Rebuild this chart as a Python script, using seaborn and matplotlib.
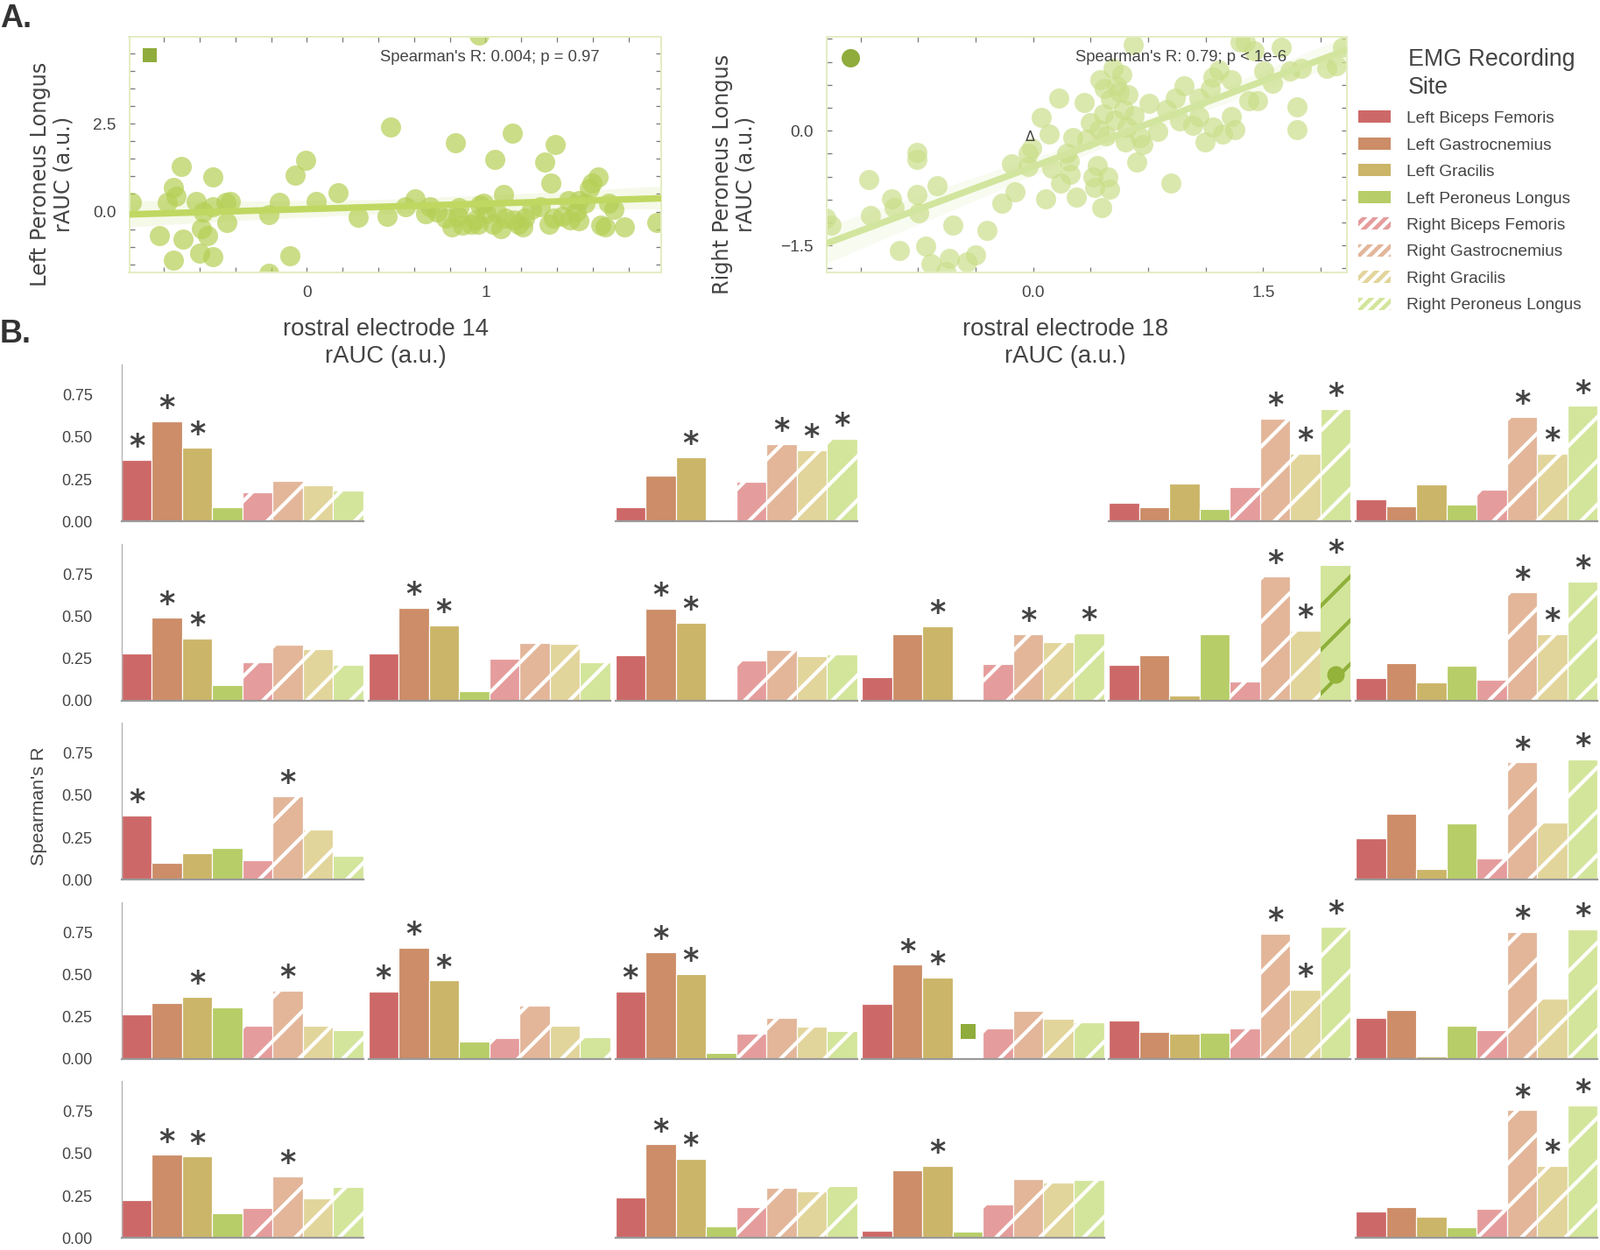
import numpy as np
import pandas as pd
import matplotlib
matplotlib.use("Agg")
import matplotlib.pyplot as plt
import seaborn as sns
from matplotlib import font_manager
from matplotlib.patches import Patch
from matplotlib.ticker import MultipleLocator, FuncFormatter

DPI = 300
W, H = 1827, 1427


def pt(px):
    return px * 72.0 / DPI


def has_font(name):
    try:
        font_manager.findfont(name, fallback_to_default=False)
        return True
    except Exception:
        return False


sns.set_theme(style="white")
NARROW = "Liberation Sans Narrow" if has_font("Liberation Sans Narrow") else "Liberation Sans"
plt.rcParams["font.family"] = [NARROW, "DejaVu Sans"]
plt.rcParams["hatch.linewidth"] = pt(4.2)
TXT = "#444444"

# ---------------------------------------------------------------- data
muscles = ["Left Biceps Femoris", "Left Gastrocnemius", "Left Gracilis",
           "Left Peroneus Longus", "Right Biceps Femoris", "Right Gastrocnemius",
           "Right Gracilis", "Right Peroneus Longus"]
colors = ["#cd6868", "#cc8d68", "#cbb568", "#b7cd68",
          "#e59c9c", "#e3b69a", "#e2d59b", "#d3e59b"]
yticks_b = [0.0, 0.25, 0.5, 0.75]

# Spearman's R per panel (row, col) and indices of significant bars
r0c0 = [0.365, 0.595, 0.44, 0.084, 0.174, 0.24, 0.215, 0.183]
r0c2 = [0.086, 0.27, 0.382, 0.01, 0.235, 0.46, 0.424, 0.49]
r0c4 = [0.11, 0.084, 0.225, 0.077, 0.206, 0.61, 0.40, 0.667]
r0c5 = [0.13, 0.09, 0.22, 0.10, 0.19, 0.618, 0.403, 0.684]
r1c0 = [0.28, 0.494, 0.368, 0.091, 0.23, 0.333, 0.305, 0.211]
r1c1 = [0.28, 0.55, 0.445, 0.056, 0.248, 0.342, 0.337, 0.23]
r1c2 = [0.267, 0.543, 0.463, 0.007, 0.237, 0.302, 0.262, 0.274]
r1c3 = [0.141, 0.394, 0.44, 0.009, 0.216, 0.393, 0.349, 0.40]
r1c4 = [0.211, 0.269, 0.028, 0.393, 0.112, 0.738, 0.415, 0.798]
r1c5 = [0.136, 0.223, 0.106, 0.206, 0.122, 0.64, 0.396, 0.703]
r2c0 = [0.379, 0.098, 0.157, 0.188, 0.117, 0.494, 0.295, 0.141]
r2c5 = [0.246, 0.391, 0.065, 0.335, 0.124, 0.695, 0.337, 0.714]
r3c0 = [0.262, 0.33, 0.366, 0.304, 0.199, 0.403, 0.197, 0.168]
r3c1 = [0.398, 0.658, 0.464, 0.105, 0.122, 0.318, 0.195, 0.129]
r3c2 = [0.398, 0.634, 0.504, 0.035, 0.152, 0.244, 0.192, 0.164]
r3c3 = [0.326, 0.557, 0.482, 0.004, 0.183, 0.286, 0.237, 0.218]
r3c4 = [0.229, 0.159, 0.152, 0.155, 0.181, 0.743, 0.41, 0.784]
r3c5 = [0.241, 0.288, 0.014, 0.199, 0.173, 0.75, 0.358, 0.768]
r4c0 = [0.223, 0.492, 0.482, 0.147, 0.176, 0.366, 0.237, 0.305]
r4c2 = [0.241, 0.555, 0.471, 0.068, 0.183, 0.298, 0.277, 0.309]
r4c3 = [0.045, 0.403, 0.426, 0.038, 0.199, 0.347, 0.328, 0.342]
r4c5 = [0.157, 0.183, 0.126, 0.066, 0.173, 0.757, 0.426, 0.785]

panels = {
    (0, 0): (r0c0, [0, 1, 2]), (0, 2): (r0c2, [2, 5, 6, 7]),
    (0, 4): (r0c4, [5, 6, 7]), (0, 5): (r0c5, [5, 6, 7]),
    (1, 0): (r1c0, [1, 2]), (1, 1): (r1c1, [1, 2]), (1, 2): (r1c2, [1, 2]),
    (1, 3): (r1c3, [2, 5, 7]), (1, 4): (r1c4, [5, 6, 7]), (1, 5): (r1c5, [5, 6, 7]),
    (2, 0): (r2c0, [0, 5]), (2, 5): (r2c5, [5, 7]),
    (3, 0): (r3c0, [2, 5]), (3, 1): (r3c1, [0, 1, 2]), (3, 2): (r3c2, [0, 1, 2]),
    (3, 3): (r3c3, [1, 2]), (3, 4): (r3c4, [5, 6, 7]), (3, 5): (r3c5, [5, 7]),
    (4, 0): (r4c0, [1, 2, 5]), (4, 2): (r4c2, [1, 2]), (4, 3): (r4c3, [2]),
    (4, 5): (r4c5, [5, 6, 7]),
}

# highlighted bars linking to panel A: (row, col, bar index, marker height)
hl_left = (3, 3, 3, 0.164)   # square -> left scatter
hl_right = (1, 4, 7, 0.154)  # circle -> right scatter

# scatter A1: rostral electrode 14 vs Left Peroneus Longus
a1_x = [-0.983, -0.827, -0.78, -0.747, -0.747, -0.73, -0.70, -0.694, -0.62, -0.60,
        -0.59, -0.58, -0.554, -0.525, -0.525, -0.525, -0.453, -0.448, -0.43, -0.212,
        -0.212, -0.152, -0.096, -0.067, -0.007, 0.053, 0.173, 0.289, 0.45, 0.47,
        0.55, 0.607, 0.667, 0.69, 0.776, 0.81, 0.83, 0.853, 0.87, 0.945,
        0.957, 0.97, 0.99, 1.005, 1.04, 1.053, 1.084, 1.10, 1.113, 1.15,
        1.161, 1.186, 1.21, 1.258, 1.306, 1.33, 1.354, 1.366, 1.39, 1.427,
        1.463, 1.475, 1.523, 1.559, 1.583, 1.595, 1.631, 1.643, 1.667, 1.69,
        1.716, 1.776, 1.957, 0.964, 1.523, 0.92, 1.06, 0.848, 1.378, 1.22,
        0.728, 1.51]
a1_y = [0.25, -0.68, 0.25, 0.69, -1.39, 0.44, 1.29, -0.78, 0.275, -1.18,
        -0.475, -0.02, -0.68, 0.98, -1.28, 0.15, 0.25, -0.31, 0.275, -1.75,
        -0.08, 0.25, -1.25, 1.03, 1.46, 0.29, 0.525, -0.17, -0.125, 2.4,
        0.15, 0.36, -0.06, 0.15, -0.18, -0.43, 1.96, 0.11, -0.39, -0.225,
        -0.37, 0.19, 0.23, -0.06, -0.35, 1.48, -0.475, 0.48, -0.18, 2.23,
        -0.225, -0.35, -0.43, 0.07, 0.15, 1.4, -0.35, 0.82, 1.9, -0.14,
        0.32, -0.225, -0.27, 0.23, 0.65, 0.82, 0.98, -0.39, -0.43, 0.23,
        0.07, -0.43, -0.31, 5.0, 0.32, -0.35, -0.02, -0.14, -0.18, -0.18,
        -0.02, -0.02]

# scatter A2: rostral electrode 18 vs Right Peroneus Longus
a2_x = [-1.352, -1.314, -1.073, -1.057, -0.92, -0.904, -0.874, -0.759, -0.759, -0.759,
        -0.747, -0.701, -0.663, -0.625, -0.567, -0.548, -0.521, -0.433, -0.375, -0.299,
        -0.203, -0.138, -0.115, -0.03, -0.03, 0.054, 0.084, 0.103, 0.123, 0.169,
        0.18, 0.218, 0.238, 0.245, 0.257, 0.283, 0.333, 0.372, 0.39, 0.402,
        0.42, 0.43, 0.437, 0.448, 0.46, 0.475, 0.487, 0.498, 0.506, 0.525,
        0.536, 0.544, 0.563, 0.582, 0.59, 0.60, 0.613, 0.651, 0.659, 0.678,
        0.697, 0.716, 0.755, 0.812, 0.87, 0.90, 0.927, 0.958, 0.985, 1.042,
        1.08, 1.119, 1.157, 1.172, 1.215, 1.234, 1.291, 1.291, 1.318, 1.349,
        1.406, 1.444, 1.464, 1.502, 1.56, 1.617, 1.674, 1.724, 1.724, 1.751,
        1.916, 1.981, 2.02, 1.387, 0.467, 0.352, 0.621, -0.011, 1.08, 1.172]
a2_y = [-1.146, -1.24, -0.638, -1.108, -0.896, -1.01, -1.57, -0.28, -0.377, -0.838,
        -1.077, -1.51, -1.74, -0.723, -1.84, -1.665, -1.24, -1.72, -1.63, -1.30,
        -0.954, -0.435, -0.80, -0.30, -0.47, 0.17, -0.896, -0.05, -0.49, 0.42,
        -0.685, -0.30, -0.396, -0.57, -0.088, -0.87, 0.373, 0.104, -0.61, -0.742,
        -0.454, 0.008, 0.66, -1.01, 0.22, -0.07, -0.61, -0.762, 0.41, 0.815,
        0.142, 0.585, 0.508, 0.738, 0.277, -0.146, 0.046, 1.123, 0.20, -0.415,
        -0.088, -0.185, 0.354, -0.012, 0.277, -0.685, 0.43, 0.123, 0.585, 0.065,
        0.18, -0.146, 0.546, 0.046, 0.796, -0.05, 0.66, 0.18, 0.008, 1.16,
        0.392, 1.046, 0.392, 0.777, 0.623, 1.085, 0.777, 0.315, 0.008, 0.815,
        0.815, 0.854, 1.085, 1.16, 0.546, -0.108, 0.47, -0.223, 0.43, 0.70]

a1_marker = (-0.88, 4.45)
a2_marker = (-1.19, 0.95)
a2_delta = (-0.02, -0.08)


# ---------------------------------------------------------------- helpers
def rect(x0, y0, x1, y1):
    return [x0 / W, 1 - y1 / H, (x1 - x0) / W, (y1 - y0) / H]


def minus_fmt(fmt):
    return FuncFormatter(lambda v, p: (fmt % v).replace("-", "\u2212"))


fig = plt.figure(figsize=(W / DPI, H / DPI), dpi=DPI)

# ---------------------------------------------------------------- panel A
sc_specs = [
    dict(rect=(147.5, 41.7, 755, 310.7), x=a1_x, y=a1_y, xlim=(-0.994, 1.983),
         ylim=(-1.72, 4.97), xmaj=1, xmin=0.2, ymaj=2.5, ymin=0.5,
         xfmt="%d", yfmt="%.1f", pcol="#b5cf55", palpha=0.7, lcol="#c0d862",
         text="Spearman's R: 0.004; p = 0.97", xlabel="rostral electrode 14\nrAUC (a.u.)",
         ylabel="Left Peroneus Longus\nrAUC (a.u.)", ylab_x=-0.145, xlab_x=0.482,
         mk="s", mkpos=a1_marker, mksize=16),
    dict(rect=(943.7, 41.7, 1538, 310.7), x=a2_x, y=a2_y, xlim=(-1.347, 2.047),
         ylim=(-1.85, 1.23), xmaj=1.5, xmin=0.375, ymaj=1.5, ymin=0.3,
         xfmt="%.1f", yfmt="%.1f", pcol="#c9de88", palpha=0.68, lcol="#d2e59e",
         text="Spearman's R: 0.79; p < 1e-6", xlabel="rostral electrode 18\nrAUC (a.u.)",
         ylabel="Right Peroneus Longus\nrAUC (a.u.)", ylab_x=-0.177, xlab_x=0.459,
         mk="o", mkpos=a2_marker, mksize=21),
]

for i, s in enumerate(sc_specs):
    ax = fig.add_axes(rect(*s["rect"]))
    ax.set_xlim(*s["xlim"])
    ax.set_ylim(*s["ylim"])
    sns.regplot(x=np.array(s["x"]), y=np.array(s["y"]), ax=ax, truncate=False,
                color=s["lcol"], ci=95,
                scatter_kws=dict(s=pt(23) ** 2, alpha=s["palpha"], linewidths=0,
                                 color=s["pcol"], zorder=2),
                line_kws=dict(lw=pt(7.5), color=s["lcol"], zorder=3))
    ax.set_xlim(*s["xlim"])
    ax.set_ylim(*s["ylim"])
    ax.xaxis.set_major_locator(MultipleLocator(s["xmaj"]))
    ax.xaxis.set_minor_locator(MultipleLocator(s["xmin"]))
    ax.yaxis.set_major_locator(MultipleLocator(s["ymaj"]))
    ax.yaxis.set_minor_locator(MultipleLocator(s["ymin"]))
    ax.xaxis.set_major_formatter(minus_fmt(s["xfmt"]))
    ax.yaxis.set_major_formatter(minus_fmt(s["yfmt"]))
    ax.tick_params(which="both", direction="in", top=True, right=True, bottom=True,
                   left=True, length=pt(6), width=pt(1.3), color="#7a7a7a",
                   labelsize=pt(19), labelcolor=TXT, pad=pt(15))
    for sp in ax.spines.values():
        sp.set_visible(True)
        sp.set_color("#e3edc3")
        sp.set_linewidth(pt(2))
    ax.text(0.471 if i == 0 else 0.479, 0.913, s["text"], transform=ax.transAxes,
            fontsize=pt(18.5), color=TXT, ha="left", va="center")
    ax.plot([s["mkpos"][0]], [s["mkpos"][1]], marker=s["mk"], ms=pt(s["mksize"]),
            color="#8fac3c", mew=0, ls="none", zorder=5)
    if i == 1:
        ax.text(a2_delta[0], a2_delta[1], "\u0394", fontsize=pt(16), color=TXT,
                ha="center", va="center", zorder=6, family=["DejaVu Sans"])
    ax.set_xlabel(s["xlabel"], fontsize=pt(27.5), color=TXT, linespacing=1.25)
    ax.xaxis.label.set_va("center")
    ax.xaxis.set_label_coords(s["xlab_x"], -0.30)
    ax.set_ylabel(s["ylabel"], fontsize=pt(24), color=TXT, family=["DejaVu Sans"],
                  linespacing=1.15)
    ax.yaxis.label.set_va("center")
    ax.yaxis.set_label_coords(s["ylab_x"], 0.415)

# legend (title drawn separately, aligned with the entry texts)
handles = [Patch(facecolor=c, edgecolor="white", lw=0,
                 hatch=("////////" if m.startswith("Right") else None))
           for m, c in zip(muscles, colors)]
leg = fig.legend(handles, muscles, loc="upper left",
                 bbox_to_anchor=(1551 / W, 1 - 126.5 / H), frameon=False,
                 fontsize=pt(19.2), handlelength=1.93,
                 handleheight=0.73, handletextpad=0.94, labelspacing=0.67,
                 borderpad=0, borderaxespad=0)
for t in leg.get_texts():
    t.set_color(TXT)
fig.text(1608 / W, 1 - 84 / H, "EMG Recording\nSite", ha="left", va="center",
         fontsize=pt(26.7), color=TXT, linespacing=1.28)

# ---------------------------------------------------------------- panel B
col_left0, col_pitch, col_w = 138.7, 281.9, 276.1
row_bot0, row_pitch, row_h = 595.4, 204.5, 179.4

for (r, c), (vals, stars) in panels.items():
    x0 = col_left0 + c * col_pitch
    yb = row_bot0 + r * row_pitch
    ax = fig.add_axes(rect(x0, yb - row_h, x0 + col_w, yb))
    df = pd.DataFrame({"muscle": muscles, "r": vals})
    sns.barplot(data=df, x="muscle", y="r", hue="muscle", order=muscles,
                hue_order=muscles, palette=colors, width=1, saturation=1,
                legend=False, errorbar=None, ax=ax)
    for p in ax.patches:
        idx = int(round(p.get_x() + p.get_width() / 2))
        p.set_edgecolor("white")
        p.set_linewidth(pt(1.2))
        if idx >= 4:
            p.set_hatch("//")
        if (r, c) == hl_right[:2] and idx == hl_right[2]:
            p.set_edgecolor("#8fb03a")
            p.set_linewidth(0)
    for k in stars:
        ax.text(k, vals[k] + 0.025, "*", ha="center", va="baseline",
                fontsize=pt(35), fontweight="bold", color=TXT,
                family=["DejaVu Sans"], zorder=6)
    if (r, c) == hl_left[:2]:
        ax.plot([hl_left[2]], [hl_left[3]], marker="s", ms=pt(17), color="#8fac3c",
                mew=0, ls="none", zorder=6)
    if (r, c) == hl_right[:2]:
        ax.plot([hl_right[2]], [hl_right[3]], marker="o", ms=pt(20), color="#94b33a",
                mew=0, ls="none", zorder=6)
    ax.set_xlim(-0.5, 7.5)
    ax.set_ylim(0, 0.93)
    ax.set_xticks([])
    ax.set_xlabel("")
    ax.set_ylabel("")
    for side in ["top", "right"]:
        ax.spines[side].set_visible(False)
    ax.spines["bottom"].set_color("#9a9a9a")
    ax.spines["bottom"].set_linewidth(pt(2.2))
    if c == 0:
        ax.spines["left"].set_color("#b0b0b0")
        ax.spines["left"].set_linewidth(pt(1.3))
        ax.set_yticks(yticks_b)
        ax.set_yticklabels(["%.2f" % v for v in yticks_b])
        ax.tick_params(axis="y", length=0, labelsize=pt(18), labelcolor=TXT, pad=pt(33))
    else:
        ax.spines["left"].set_visible(False)
        ax.set_yticks([])

fig.text(44 / W, 1 - 920 / H, "Spearman's R", rotation=90, ha="center", va="center",
         fontsize=pt(21.5), color=TXT)

fig.text(0.0, 1 - 4 / H, "A.", fontsize=pt(36), fontweight="bold", color="#333333",
         ha="left", va="top")
fig.text(0.0, 1 - 364 / H, "B.", fontsize=pt(36), fontweight="bold", color="#333333",
         ha="left", va="top")

fig.savefig("out.png", dpi=DPI)
